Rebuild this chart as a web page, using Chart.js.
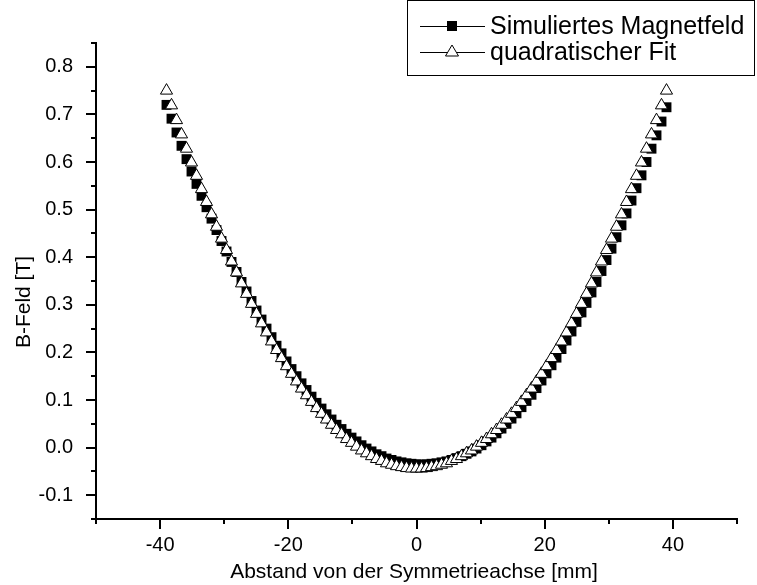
<!DOCTYPE html>
<html>
<head>
<meta charset="utf-8">
<script src="https://cdn.jsdelivr.net/npm/chart.js@4.4.1/dist/chart.umd.min.js"></script>
<style>
  html, body { margin: 0; padding: 0; background: #fff; }
  #wrap { width: 757px; height: 585px; position: relative; }
</style>
</head>
<body>
<div id="wrap"><canvas id="canvas"></canvas></div>
<script>
"use strict";
// Abstand von der Symmetrieachse [mm]
const abstand = [
  -39, -38.22, -37.44, -36.66, -35.88, -35.1, -34.32, -33.54, -32.76, -31.98,
  -31.2, -30.42, -29.64, -28.86, -28.08, -27.3, -26.52, -25.74, -24.96, -24.18,
  -23.4, -22.62, -21.84, -21.06, -20.28, -19.5, -18.72, -17.94, -17.16, -16.38,
  -15.6, -14.82, -14.04, -13.26, -12.48, -11.7, -10.92, -10.14, -9.36, -8.58,
  -7.8, -7.02, -6.24, -5.46, -4.68, -3.9, -3.12, -2.34, -1.56, -0.78,
  0,
  0.78, 1.56, 2.34, 3.12, 3.9, 4.68, 5.46, 6.24, 7.02, 7.8,
  8.58, 9.36, 10.14, 10.92, 11.7, 12.48, 13.26, 14.04, 14.82, 15.6,
  16.38, 17.16, 17.94, 18.72, 19.5, 20.28, 21.06, 21.84, 22.62, 23.4,
  24.18, 24.96, 25.74, 26.52, 27.3, 28.08, 28.86, 29.64, 30.42, 31.2,
  31.98, 32.76, 33.54, 34.32, 35.1, 35.88, 36.66, 37.44, 38.22, 39
];

// B-Feld [T], Simulation
const simuliert = [
  0.720, 0.691, 0.662, 0.634, 0.606, 0.580, 0.554, 0.529, 0.505, 0.481,
  0.457, 0.434, 0.412, 0.390, 0.369, 0.348, 0.328, 0.308, 0.288, 0.269,
  0.250, 0.232, 0.214, 0.198, 0.181, 0.165, 0.150, 0.135, 0.121, 0.107,
  0.094, 0.082, 0.070, 0.059, 0.048, 0.039, 0.029, 0.021, 0.013, 0.005,
  -0.002, -0.008, -0.014, -0.018, -0.023, -0.026, -0.029, -0.031, -0.033, -0.034,
  -0.035,
  -0.036, -0.035, -0.034, -0.033, -0.031, -0.029, -0.026, -0.022, -0.018, -0.013,
  -0.008, -0.002, 0.005, 0.013, 0.021, 0.030, 0.040, 0.050, 0.061, 0.072,
  0.085, 0.098, 0.111, 0.125, 0.141, 0.156, 0.173, 0.189, 0.207, 0.225,
  0.244, 0.264, 0.284, 0.304, 0.326, 0.348, 0.371, 0.394, 0.418, 0.442,
  0.467, 0.492, 0.519, 0.545, 0.572, 0.600, 0.628, 0.656, 0.685, 0.715
];

// B-Feld [T], quadratischer Fit
const fit = [
  0.750, 0.719, 0.688, 0.658, 0.628, 0.599, 0.571, 0.543, 0.516, 0.490,
  0.464, 0.439, 0.415, 0.391, 0.368, 0.345, 0.323, 0.302, 0.281, 0.261,
  0.242, 0.223, 0.205, 0.188, 0.171, 0.155, 0.139, 0.124, 0.110, 0.096,
  0.083, 0.071, 0.059, 0.048, 0.037, 0.028, 0.018, 0.010, 0.002, -0.006,
  -0.012, -0.018, -0.024, -0.028, -0.033, -0.036, -0.039, -0.041, -0.043, -0.044,
  -0.044,
  -0.044, -0.043, -0.041, -0.039, -0.036, -0.033, -0.028, -0.024, -0.018, -0.012,
  -0.006, 0.002, 0.010, 0.018, 0.028, 0.037, 0.048, 0.059, 0.071, 0.083,
  0.096, 0.110, 0.124, 0.139, 0.155, 0.171, 0.188, 0.205, 0.223, 0.242,
  0.261, 0.281, 0.302, 0.323, 0.345, 0.368, 0.391, 0.415, 0.439, 0.464,
  0.490, 0.516, 0.543, 0.571, 0.599, 0.628, 0.658, 0.688, 0.719, 0.750
];

// beschriftete Ticks (dazwischen kleine Ticks ohne Text)
const xTickLabels = [-40, -20, 0, 20, 40];
const yTickLabels = [-0.1, 0.0, 0.1, 0.2, 0.3, 0.4, 0.5, 0.6, 0.7, 0.8];

const serienNamen = ['Simuliertes Magnetfeld', 'quadratischer Fit'];

const schrift = '"Liberation Sans", Arial, sans-serif';

function hatLabel(list, v) {
  return list.some(l => Math.abs(l - v) < 1e-6);
}

// Ticks, Achsentitel und Legende selbst zeichnen
const extras = {
  id: 'extras',
  afterDraw(chart) {
    const ctx = chart.ctx;
    const xs = chart.scales.x;
    const ys = chart.scales.y;
    const a = chart.chartArea;
    ctx.save();
    ctx.strokeStyle = '#000';
    ctx.lineWidth = 2;
    xs.ticks.forEach(t => {
      const px = Math.round(xs.getPixelForValue(t.value));
      const len = t.label ? 10 : 5;
      ctx.beginPath();
      ctx.moveTo(px, a.bottom);
      ctx.lineTo(px, a.bottom + len);
      ctx.stroke();
    });
    ys.ticks.forEach(t => {
      const py = Math.round(ys.getPixelForValue(t.value));
      const len = t.label ? 10 : 5;
      ctx.beginPath();
      ctx.moveTo(a.left, py);
      ctx.lineTo(a.left - len, py);
      ctx.stroke();
    });

    // Achsentitel
    ctx.fillStyle = '#000';
    ctx.font = '21px ' + schrift;
    ctx.textAlign = 'center';
    ctx.textBaseline = 'middle';
    ctx.fillText('Abstand von der Symmetrieachse [mm]', 414, 572);
    ctx.save();
    ctx.translate(24, 302);
    ctx.rotate(-Math.PI / 2);
    ctx.fillText('B-Feld [T]', 0, 0);
    ctx.restore();

    // Legende
    ctx.fillStyle = '#fff';
    ctx.fillRect(407, 0, 348, 76);
    ctx.lineWidth = 1;
    ctx.strokeRect(407.5, 0.5, 347, 75);
    const reihen = [26, 52];
    ctx.font = '25px ' + schrift;
    ctx.textAlign = 'left';
    reihen.forEach((y, i) => {
      ctx.strokeStyle = '#000';
      ctx.lineWidth = 1;
      ctx.beginPath();
      ctx.moveTo(420, y + 0.5);
      ctx.lineTo(485, y + 0.5);
      ctx.stroke();
      if (i === 0) {
        ctx.fillStyle = '#000';
        ctx.fillRect(447, y - 5, 10, 10);
      } else {
        ctx.fillStyle = '#fff';
        ctx.beginPath();
        ctx.moveTo(452, y - 7);
        ctx.lineTo(458.5, y + 4);
        ctx.lineTo(445.5, y + 4);
        ctx.closePath();
        ctx.fill();
        ctx.stroke();
      }
      ctx.fillStyle = '#000';
      ctx.fillText(serienNamen[i], 490, y + 1);
    });
    ctx.restore();
  }
};

const canvas = document.getElementById('canvas');
const ctx = canvas.getContext('2d');

let myChart = new Chart(ctx, {
  type: 'scatter',
  data: {
    datasets: [{
      label: serienNamen[0],
      data: abstand.map((x, i) => ({ x: x, y: simuliert[i] })),
      pointStyle: 'rect',
      pointRadius: 7,
      backgroundColor: '#000',
      borderColor: '#000',
      borderWidth: 0,
      order: 1
    }, {
      label: serienNamen[1],
      data: abstand.map((x, i) => ({ x: x, y: fit[i] })),
      pointStyle: 'triangle',
      pointRadius: 7,
      backgroundColor: '#fff',
      borderColor: '#000',
      borderWidth: 1,
      order: 0
    }]
  },
  options: {
    responsive: true,
    maintainAspectRatio: false,
    animation: false,
    devicePixelRatio: 1,
    layout: { padding: { top: 43, right: 20, left: 0, bottom: 0 } },
    plugins: {
      legend: { display: false },
      tooltip: { enabled: false }
    },
    scales: {
      x: {
        type: 'linear',
        min: -50,
        max: 50,
        afterFit: s => { s.height = 66; },
        grid: { display: false },
        border: { display: true, color: '#000', width: 2 },
        ticks: {
          stepSize: 10,
          autoSkip: false,
          maxRotation: 0,
          padding: 6,
          color: '#000',
          font: { family: schrift, size: 20 },
          callback: v => hatLabel(xTickLabels, v) ? String(Math.round(v)) : ''
        }
      },
      y: {
        type: 'linear',
        min: -0.15,
        max: 0.85,
        afterFit: s => { s.width = 96; },
        grid: { display: false },
        border: { display: true, color: '#000', width: 2 },
        ticks: {
          stepSize: 0.05,
          autoSkip: false,
          padding: 15,
          color: '#000',
          font: { family: schrift, size: 20 },
          callback: v => hatLabel(yTickLabels, v) ? v.toFixed(1) : ''
        }
      }
    }
  },
  plugins: [extras]
});
</script>
</body>
</html>
